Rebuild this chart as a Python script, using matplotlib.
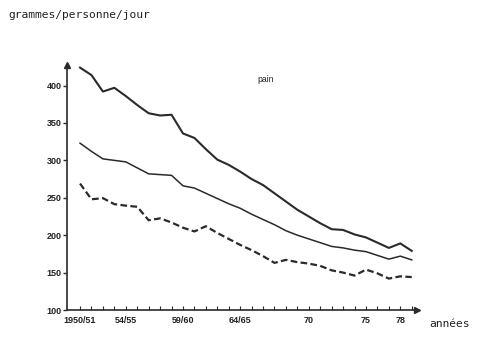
import matplotlib
matplotlib.use("Agg")
import matplotlib.pyplot as plt

years = list(range(1950, 1980))
top = [424, 414, 392, 397, 386, 374, 363, 360, 361, 336, 330, 315, 301, 294, 285,
       275, 267, 256, 245, 234, 225, 216, 208, 207, 201, 197, 190, 183, 189, 179]
middle = [323, 312, 302, 300, 298, 290, 282, 281, 280, 266, 263, 256, 249, 242, 236,
          228, 221, 214, 206, 200, 195, 190, 185, 183, 180, 178, 173, 168, 172, 167]
dashed = [269, 248, 249.5, 241.5, 239.5, 238, 220, 222.5, 217, 210, 205, 212, 203, 195, 187,
          180, 172, 163, 167, 164, 162, 159, 153, 150, 146, 154, 149, 142, 145, 144]
xtick_pos = [1950, 1954, 1959, 1964, 1970, 1975, 1978]
xtick_labels = ["1950/51", "54/55", "59/60", "64/65", "70", "75", "78"]
yticks = [100, 150, 200, 250, 300, 350, 400]

fig = plt.figure(figsize=(4.8, 3.41), dpi=100)
ax = fig.add_axes([67/480, 1-310/341, (417-67)/480, (310-65)/341])
col = "#2a2a2a"
ax.plot(years, top, color=col, lw=1.5)
ax.plot(years, middle, color=col, lw=1.1)
ax.plot(years, dashed, color=col, lw=1.6, ls=(0, (3, 1.5)))

ax.set_xlim(1948.86, 1979.46)
ax.set_ylim(100, 427.5)
for s in ["top", "right"]:
    ax.spines[s].set_visible(False)
for s in ["left", "bottom"]:
    ax.spines[s].set_color(col)
    ax.spines[s].set_linewidth(1.2)
ax.plot(1, 0, ">", color=col, ms=5, transform=ax.transAxes, clip_on=False)
ax.plot(0, 1, "^", color=col, ms=5, transform=ax.transAxes, clip_on=False)

lab_font = dict(family="Liberation Sans", size=6.5, weight="bold")
ax.set_yticks(yticks)
ax.set_yticklabels([str(v) for v in yticks], color="#222222", fontdict=lab_font)
ax.tick_params(axis="y", direction="out", length=3, width=1, color=col, pad=1)
ax.set_xticks(years, minor=True)
ax.set_xticks(xtick_pos)
ax.set_xticklabels(xtick_labels, color="#222222", fontdict=lab_font)
ax.tick_params(axis="x", which="both", direction="in", length=3, width=0.8, color=col, pad=4)

fig.text(8/480, 1-15/341, "grammes/personne/jour", family="DejaVu Sans Mono",
         fontsize=8.1, va="center", ha="left", color="#222222")
fig.text(429/480, 1-324/341, "années", family="DejaVu Sans Mono",
         fontsize=8.1, va="center", ha="left", color="#222222")
fig.text(257/480, 1-79/341, "pain", family="Liberation Sans", fontsize=6.2,
         va="center", ha="left", color="#222222")

fig.savefig("out.png", dpi=100, facecolor="white")
